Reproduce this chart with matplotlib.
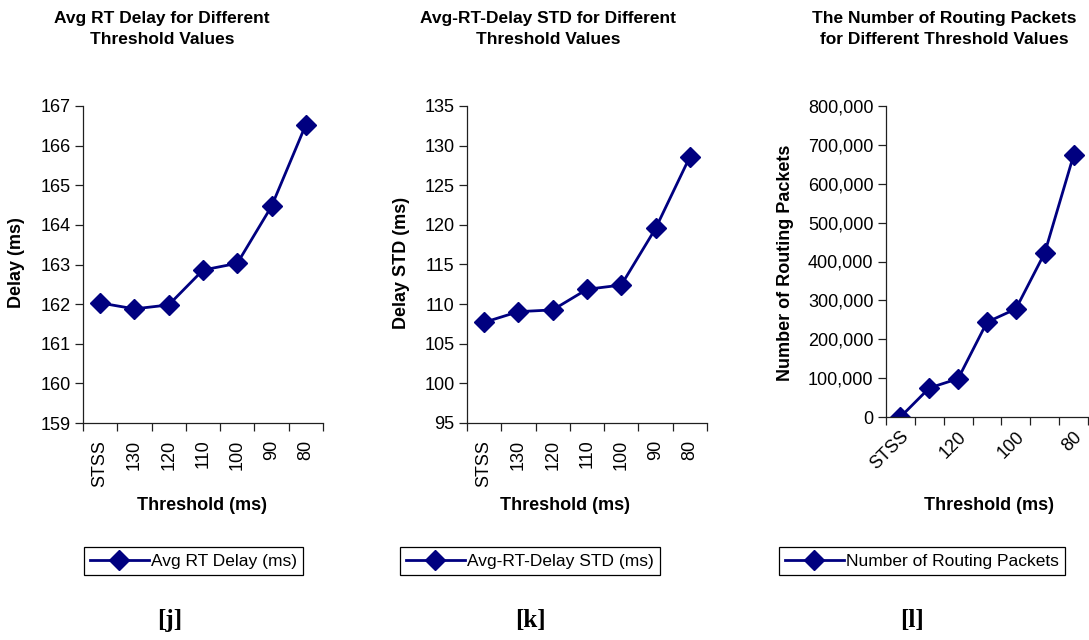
import matplotlib
matplotlib.use("Agg")
import matplotlib.pyplot as plt
from matplotlib.ticker import FuncFormatter

plt.rcParams['font.family'] = ['Liberation Sans', 'DejaVu Sans']

# data
thresholds = ["STSS", "130", "120", "110", "100", "90", "80"]
avg_delay = [162.03, 161.88, 161.98, 162.86, 163.03, 164.47, 166.53]
delay_std = [107.7, 109.05, 109.27, 111.87, 112.41, 119.55, 128.58]
routing_packets = [0, 74600, 98600, 244000, 278000, 422000, 673000]

navy = "#000080"
axis_col = "#202020"
W, H = 1089, 640

fig = plt.figure(figsize=(W / 100, H / 100), dpi=100)


def style_axes(ax):
    for s in ["top", "right"]:
        ax.spines[s].set_visible(False)
    for s in ["left", "bottom"]:
        ax.spines[s].set_color(axis_col)
        ax.spines[s].set_linewidth(0.9)
    ax.tick_params(axis="y", colors=axis_col, labelcolor="black", labelsize=13,
                   length=6, width=0.9, pad=3, direction="out")
    ax.set_xlim(-0.5, len(thresholds) - 0.5)
    ax.set_xticks([i - 0.5 for i in range(len(thresholds) + 1)], minor=True)
    ax.tick_params(axis="x", which="minor", colors=axis_col, length=6, width=0.9, direction="out")
    ax.tick_params(axis="x", which="major", length=0, labelsize=13, pad=12)


def draw_panel(rect, values, label, ylim, yticks, ylabel, ylab_x, title, title_x, xlab_x,
               leg_x, tag, tag_x, rot):
    ax = fig.add_axes(rect)
    x = list(range(len(thresholds)))
    ax.plot(x, values, color=navy, lw=2, marker="D", ms=10, label=label)
    style_axes(ax)
    ax.set_ylim(*ylim)
    ax.set_yticks(yticks)
    if rot == 90:
        ax.set_xticks(x)
        ax.set_xticklabels(thresholds, rotation=90, va="top", ha="center")
    else:
        ax.set_xticks(x[::2])
        ax.set_xticklabels(thresholds[::2], rotation=45, ha="right", va="top",
                           rotation_mode="anchor")
        ax.tick_params(axis="x", which="major", pad=8)
    fig.text(ylab_x / W, 1 - 263 / H, ylabel, rotation=90, ha="center", va="center",
             fontsize=13, fontweight="bold")
    fig.text(xlab_x / W, 1 - 506 / H, "Threshold (ms)", ha="center", va="center",
             fontsize=13, fontweight="bold")
    fig.text(title_x / W, 1 - 29 / H, title, ha="center", va="center",
             fontsize=12.5, fontweight="bold", linespacing=1.45)
    leg = ax.legend(loc="center", bbox_to_anchor=(leg_x / W, 1 - 561 / H),
                    bbox_transform=fig.transFigure,
                    frameon=True, fancybox=False, framealpha=1, borderpad=0.35,
                    borderaxespad=0, handlelength=3.4, handletextpad=0.15,
                    prop={"size": 12.5})
    leg.get_frame().set_edgecolor("black")
    leg.get_frame().set_linewidth(0.9)
    fig.text(tag_x / W, 1 - 620 / H, tag, ha="center", va="center",
             fontsize=18, fontweight="bold", family="Liberation Serif")
    return ax


draw_panel([83 / W, 1 - 423 / H, 240 / W, 317 / H], avg_delay, "Avg RT Delay (ms)",
           (159, 167), list(range(159, 168)), "Delay (ms)", 17,
           "Avg RT Delay for Different\nThreshold Values", 162, 202,
           193.5, "[j]", 170, 90)

draw_panel([467 / W, 1 - 423 / H, 240 / W, 317 / H], delay_std, "Avg-RT-Delay STD (ms)",
           (95, 135), list(range(95, 136, 5)), "Delay STD (ms)", 401,
           "Avg-RT-Delay STD for Different\nThreshold Values", 548, 565,
           530, "[k]", 530, 90)

ax3 = draw_panel([886 / W, 1 - 417 / H, 202 / W, 311 / H], routing_packets,
                 "Number of Routing Packets",
                 (0, 800000), list(range(0, 800001, 100000)), "Number of Routing Packets", 785,
                 "The Number of Routing Packets\nfor Different Threshold Values", 944, 989,
                 922, "[l]", 912, 45)
ax3.yaxis.set_major_formatter(FuncFormatter(lambda v, p: f"{int(v):,}"))

fig.savefig("out.png", dpi=100)
